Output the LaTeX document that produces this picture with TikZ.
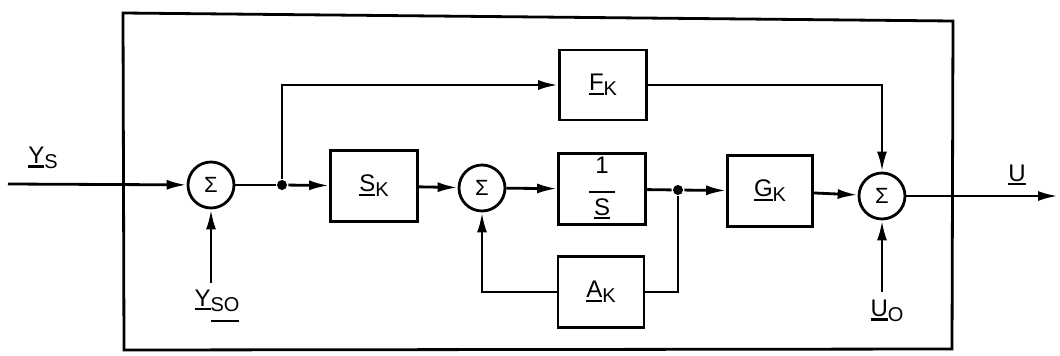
\documentclass[tikz,border=0pt]{standalone}
\usepackage{fontspec}
\setmainfont{Liberation Sans}
\usetikzlibrary{arrows.meta}
\newcommand\ulin[2][-4pt]{\setbox0\hbox{#2}\rlap{\rule[#1]{\wd0}{2.2pt}}\box0}
\newcommand\subk[1]{\raisebox{-5pt}{\fontsize{20}{20}\selectfont #1}}
\begin{document}
\begin{tikzpicture}[x=1pt,y=-1pt, line width=2.8pt,
  blk/.style={draw, minimum width=87pt, minimum height=71pt, inner sep=0pt, font=\fontsize{24}{26}\selectfont},
  sumnode/.style={draw, circle, minimum size=46pt, inner sep=0pt, font=\fontsize{22}{24}\selectfont},
  sig/.style={-{Latex[length=20pt,width=10pt]}},
  dotj/.style={circle, fill, inner sep=0pt, minimum size=10pt},
  lab/.style={font=\fontsize{24}{26}\selectfont, inner sep=0pt}]
\useasboundingbox (0,0) rectangle (1060,356);
% outer frame
\draw (123,13) -- (953,21) -- (952,349) -- (124,350) -- cycle;
% nodes
\node[sumnode] (s1) at (211,185) {Σ};
\node[dotj] (j1) at (282,185) {};
\node[blk] (sk) at (374,186) {\ulin{S}\subk{K}};
\node[sumnode] (s2) at (482,188) {Σ};
\node[blk] (inv) at (602,189) {\begin{tabular}{@{}c@{}}1\\[-6pt]\rule{26pt}{2.2pt}\\[-4pt]\ulin{S}\end{tabular}};
\node[dotj] (j2) at (678,190) {};
\node[blk, minimum width=85pt] (gk) at (770,191) {\ulin{G}\subk{K}};
\node[sumnode] (s3) at (882,196) {Σ};
\node[blk, minimum height=70pt] (fk) at (603,85) {\ulin{F}\subk{K}};
\node[blk, minimum width=86pt] (ak) at (601,292) {\ulin{A}\subk{K}};
% free ends
\coordinate (in) at (8,184);
\coordinate (out) at (1058,196);
\coordinate (ys0) at (211,283);
\coordinate (uo) at (882,292);
% labels
\node[lab] (lys) at (43,158) {\ulin{Y}\subk{S}};
\node[lab] (lyso) at (217,306) {\ulin{Y}\subk{\ulin[-11pt]{SO}}};
\node[lab] (luo) at (887,311) {\ulin{U}\subk{O}};
\node[lab] (lu) at (1017,175) {\ulin{U}};
% connectors
\draw[sig] (in) -- (s1);
\draw[sig] (ys0) -- (s1);
\draw (s1) -- (j1);
\draw[sig] (j1) -- (sk);
\draw[sig] (j1) |- (fk);
\draw[sig] (sk) -- (s2);
\draw[sig] (s2) -- (inv);
\draw (inv) -- (j2);
\draw[sig] (j2) -- (gk);
\draw (j2) |- (ak);
\draw[sig] (ak) -| (s2);
\draw[sig] (gk) -- (s3);
\draw[sig] (fk) -| (s3);
\draw[sig] (uo) -- (s3);
\draw[sig] (s3) -- (out);
\end{tikzpicture}
\end{document}
